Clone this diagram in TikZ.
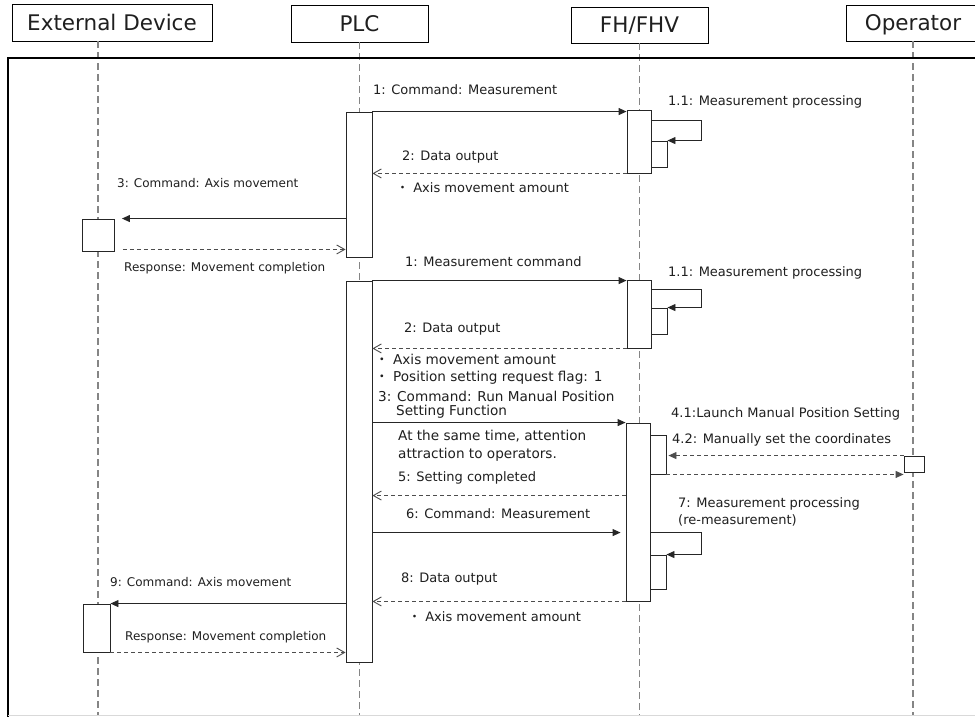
\documentclass[tikz,border=0pt]{standalone}
\usepackage{fontspec}
\setmainfont{DejaVu Sans}
\newfontfamily\cjk{Noto Sans CJK JP}
\usepackage{tikz}
\usetikzlibrary{arrows.meta}
\usepackage{xcolor}
\definecolor{txt}{HTML}{1F1F1F}
\definecolor{lifegray}{HTML}{858585}
\definecolor{dashink}{HTML}{4D4D4D}
\tikzset{headbox/.style={draw=black,line width=.9pt,fill=white,minimum height=37,inner sep=0pt,text height=16.5pt,text depth=.8pt,text=txt,font=\fontsize{21.5}{25}\selectfont}, lifeline/.style={draw=lifegray,line width=1.4pt,dash pattern=on 7pt off 4pt}, actbox/.style={draw=black!85,line width=.9pt,fill=white,inner sep=0pt}, frameline/.style={draw=black,line width=2pt}, callarrow/.style={draw=black!85,line width=.9pt,-{Triangle[length=8pt,width=7pt]}}, replyarrow/.style={draw=dashink,line width=.9pt,dash pattern=on 4pt off 3pt,-{Straight Barb[length=8pt,width=9pt]}}, signalarrow/.style={draw=dashink,line width=.9pt,dash pattern=on 4pt off 3pt,-{Triangle[length=8pt,width=7pt]}}, msgtext/.style={anchor=west,inner sep=0pt,text=txt,align=left,font=\fontsize{13}{17}\selectfont}, smalltext/.style={msgtext,font=\fontsize{12}{15}\selectfont}, bigtext/.style={msgtext,font=\fontsize{13.6}{18}\selectfont}}

\begin{document}
\begin{tikzpicture}[x=1pt,y=-1pt]
\clip (0,0) rectangle (975,716);
\fill[white] (0,0) rectangle (975,716);
\coordinate (bot) at (0,716); \coordinate (extline) at (98,41);
\node[headbox,minimum width=200] (ext) at (112,22.5) {External Device};
\node[headbox,minimum width=137] (plc) at (359.5,23.5) {PLC};
\node[headbox,minimum width=137,minimum height=36] (fh) at (639.5,25) {FH/FHV};
\node[headbox,minimum width=134,minimum height=36] (op) at (913,23) {Operator};
\draw[lifeline] (extline) -- (extline |- bot);
\draw[lifeline] (plc.south) -- (plc.south |- bot);
\draw[lifeline] (fh.south) -- (fh.south |- bot);
\draw[lifeline] (op.south) -- (op.south |- bot);
\draw[frameline] (990,58) -- (8,58) -- (8,730);
\draw[black!15] (8,715) -- (975,715);

\node[actbox,minimum width=26,minimum height=145] (p1) at (359,184.5) {};
\node[actbox,minimum width=26,minimum height=381] (p2) at (359,471.5) {};
\node[actbox,minimum width=24,minimum height=63] (f1) at (639,141.5) {};
\node[actbox,minimum width=16,minimum height=26] (f1s) at (659,154) {};
\node[actbox,minimum width=24,minimum height=68] (f2) at (639,314) {};
\node[actbox,minimum width=16,minimum height=26] (f2s) at (659,321) {};
\node[actbox,minimum width=24,minimum height=178] (f3) at (638,512) {};
\node[actbox,minimum width=16,minimum height=39] (f3a) at (658,454.5) {};
\node[actbox,minimum width=16,minimum height=34] (f3s) at (658,572) {};
\node[actbox,minimum width=32,minimum height=32] (e1) at (98.5,235) {};
\node[actbox,minimum width=27,minimum height=48] (e2) at (96.5,628) {};
\node[actbox,minimum width=20,minimum height=16] (o1) at (914,464) {};
\coordinate (r1) at ([yshift=2pt]e1.south east);
\coordinate (s5) at ([yshift=-73pt]f3.north west);
\coordinate (c6) at ([yshift=-110pt]f3.north west);

\draw[callarrow] (p1.north east) -- (p1.north east -| f1.west);
\draw[callarrow] ([yshift=-11pt]f1.north east) -- ++(50,0) |- (f1s.north east);
\draw[replyarrow] (f1.south west) -- (f1.south west -| p1.east);
\draw[callarrow,shorten >=7pt] (e1.north -| p1.west) -- (e1.north east);
\draw[replyarrow,shorten <=8pt] (r1) -- (r1 -| p1.west);
\draw[callarrow] (p2.north east) -- (p2.north east -| f2.west);
\draw[callarrow] ([yshift=-10pt]f2.north east) -- ++(50,0) |- (f2s.north east);
\draw[replyarrow] (f2.south west) -- (f2.south west -| p2.east);
\draw[callarrow] (f3.north west -| p2.east) -- (f3.north west);
\draw[signalarrow,shorten >=2pt] (o1.north west) -- (o1.north west -| f3a.east);
\draw[signalarrow] (f3a.south east) -- (f3a.south east -| o1.west);
\draw[replyarrow] (s5) -- (s5 -| p2.east);
\draw[callarrow,shorten >=5pt] (c6 -| p2.east) -- (c6);
\draw[callarrow] (c6 -| f3.east) -- ++(51,0) |- (f3s.north east);
\draw[replyarrow] (f3.south west) -- (f3.south west -| p2.east);
\draw[callarrow] (e2.north -| p2.west) -- (e2.north east);
\draw[replyarrow] (e2.south east) -- (e2.south east -| p2.west);

\node[msgtext] (t1) at (373,90) {1: Command: Measurement};
\node[msgtext] (t11a) at (668,102) {1.1: Measurement processing};
\node[msgtext] (t2) at (402,157) {2: Data output};
\node[msgtext] (t2b) at (396,188) {{\cjk ・} Axis movement amount};
\node[smalltext] (t3) at (117,183) {3: Command: Axis movement};
\node[smalltext] (t4) at (124,268) {Response: Movement completion};
\node[msgtext] (t5) at (405,262) {1: Measurement command};
\node[msgtext] (t11b) at (668,273) {1.1: Measurement processing};
\node[msgtext] (t6) at (404,329) {2: Data output};
\node[bigtext] (t6b) at (375,359) {{\cjk ・} Axis movement amount};
\node[bigtext] (t6c) at (375,378) {{\cjk ・} Position setting request flag: 1};
\node[bigtext] (t7) at (378,396) {3: Command: Run Manual Position};
\node[bigtext] (t7b) at (396,412) {Setting Function};
\node[bigtext] (t7c) at (398,446) {At the same time, attention\\attraction to operators.};
\node[msgtext] (t41) at (671,414) {4.1:Launch Manual Position Setting};
\node[msgtext] (t42) at (672,440) {4.2: Manually set the coordinates};
\node[msgtext] (t5s) at (398,478) {5: Setting completed};
\node[msgtext] (t6m) at (406,514) {6: Command: Measurement};
\node[msgtext] (t7m) at (678,511.5) {7: Measurement processing\\(re-measurement)};
\node[msgtext] (t8) at (401,579) {8: Data output};
\node[msgtext] (t8b) at (408,617) {{\cjk ・} Axis movement amount};
\node[smalltext] (t9) at (110,582) {9: Command: Axis movement};
\node[smalltext] (t10) at (125,637) {Response: Movement completion};
\end{tikzpicture}
\end{document}
